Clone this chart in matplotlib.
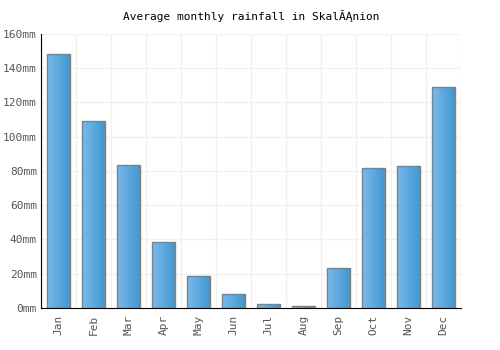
import numpy as np
import matplotlib
matplotlib.use("Agg")
import matplotlib.pyplot as plt
from matplotlib.colors import LinearSegmentedColormap

months = ["Jan", "Feb", "Mar", "Apr", "May", "Jun",
          "Jul", "Aug", "Sep", "Oct", "Nov", "Dec"]
rainfall = [148.3, 109, 83.3, 38.5, 18.7, 8.2, 2.3, 1.2, 23.4, 82, 83, 129]
yticks = [0, 20, 40, 60, 80, 100, 120, 140, 160]

plt.rcParams['font.family'] = ['DejaVu Sans Mono']

fig = plt.figure(figsize=(5, 3.5), dpi=100)
ax = fig.add_axes([0.082, 0.12, 0.84, 0.783])

x = np.arange(len(months))
bars = ax.bar(x, rainfall, width=0.67, facecolor='none',
              edgecolor='#808080', linewidth=1, zorder=3)

# horizontal gradient fill, light on the left, darker on the right
cmap = LinearSegmentedColormap.from_list('rain', ['#7cb9ea', '#3d97d1'])
grad = np.linspace(0, 1, 64).reshape(1, -1)
for b in bars:
    x0, y0 = b.get_x(), b.get_y()
    im = ax.imshow(grad, cmap=cmap, aspect='auto', zorder=2,
                   extent=[x0, x0 + b.get_width(), y0, y0 + b.get_height()])
    im.set_clip_path(b)

ax.set_xlim(-0.5, len(months) - 0.5)
ax.set_ylim(0, 160)
ax.set_yticks(yticks)
ax.set_yticklabels([f"{v}mm" for v in yticks])
ax.set_xticks(x)
ax.set_xticklabels(months, rotation=90)
ax.set_xticks(np.arange(-0.5, len(months)), minor=True)

ax.grid(True, axis='y', color='#f0f0f0', linewidth=1, zorder=0)
ax.grid(True, axis='x', which='minor', color='#f0f0f0', linewidth=1, zorder=0)
ax.tick_params(axis='both', which='both', length=0, colors='#555555', labelsize=8)
ax.tick_params(axis='x', pad=5)
ax.tick_params(axis='y', pad=3)

for s in ['top', 'right']:
    ax.spines[s].set_visible(False)
ax.spines['left'].set_color('black')
ax.spines['bottom'].set_color('black')

ax.set_title("Average monthly rainfall in SkalĂĄnion", fontsize=8, color='black', pad=10)

fig.savefig("out.png", dpi=100)
